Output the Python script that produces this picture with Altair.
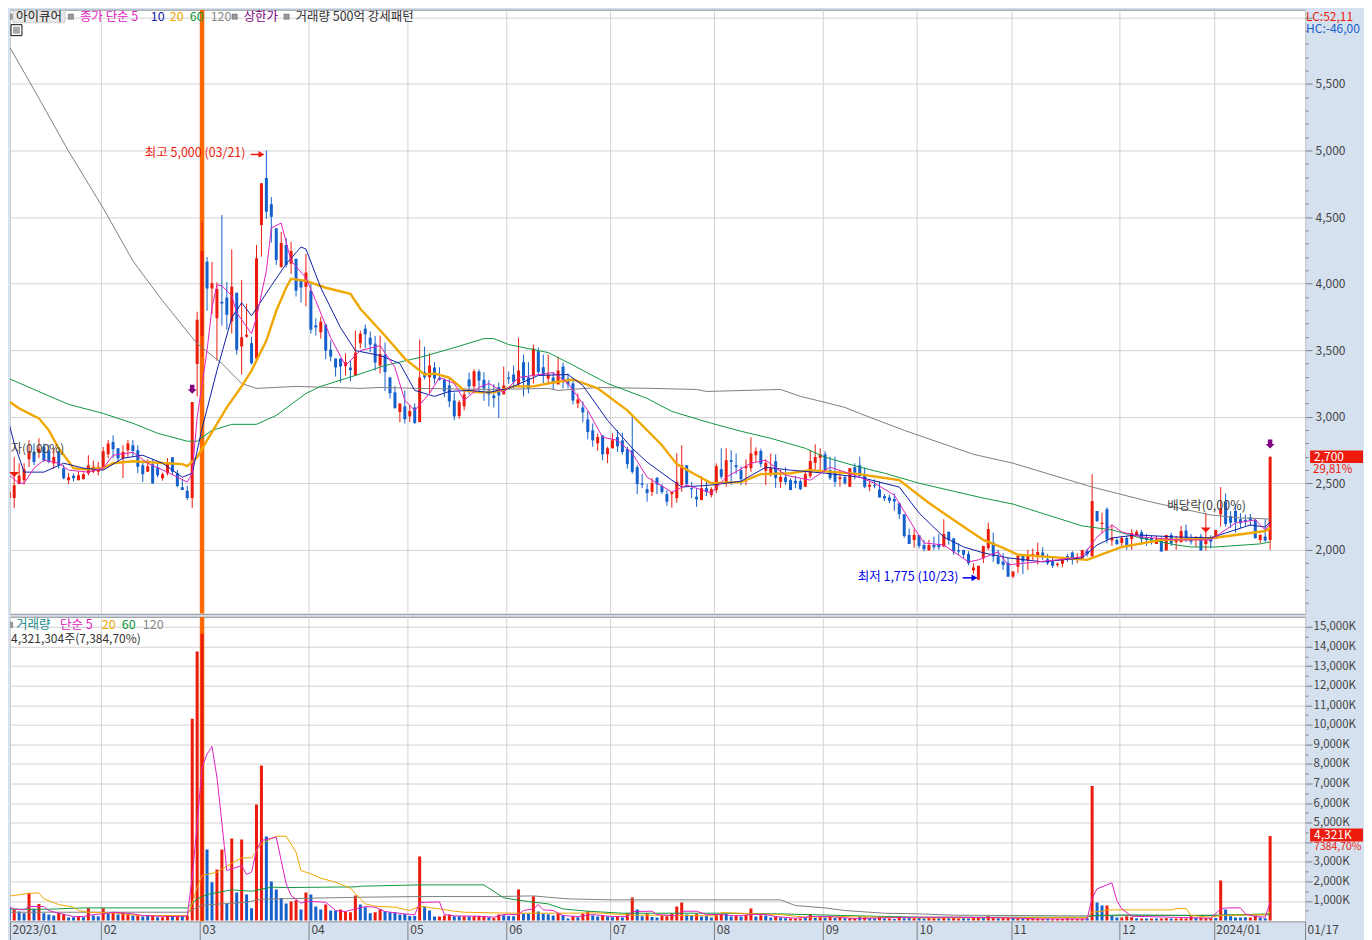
import altair as alt
import pandas as pd

# ---- daily candles (won)
opens = [
 2374,2389,2389,2494,2524,2681,2736,2733,2773,2748,
 2648,2741,2614,2524,2556,2524,2531,2576,2586,2586,
 2614,2718,2810,2763,2689,2748,2786,2748,2636,2586,
 2644,2621,2539,2576,2696,2576,2471,2444,2389,3397,
 3609,4165,3963,3739,3864,3896,3716,3931,3527,3601,
 3552,3437,4440,4794,4597,4415,4126,4290,4150,4187,
 4021,3976,3946,3686,3634,3692,3504,3437,3437,3380,
 3370,3310,3552,3662,3594,3549,3385,3467,3295,3183,
 3035,3078,3003,3070,2960,3335,3297,3370,3292,3277,
 3235,3122,3005,3078,3280,3228,3340,3277,3198,3160,
 3222,3168,3295,3317,3243,3410,3295,3310,3492,3372,
 3287,3295,3243,3377,3287,3250,3100,3070,2980,2898,
 2801,2860,2718,2763,2848,2823,2756,2748,2621,2500,
 2456,2436,2541,2481,2419,2419,2389,2486,2636,2464,
 2399,2374,2464,2411,2449,2606,2511,2674,2636,2599,
 2614,2614,2711,2743,2594,2561,2666,2511,2546,2524,
 2519,2516,2474,2554,2654,2691,2718,2599,2586,2531,
 2546,2474,2621,2636,2569,2474,2486,2454,2404,2394,
 2382,2349,2267,2112,2075,2110,2037,1995,2037,2043,
 2025,2137,2087,2000,2000,1970,1845,1775,1938,2013,
 2055,1948,1912,1903,1800,1873,1963,1920,1950,1950,
 1980,1930,1912,1885,1895,1955,1980,1932,1938,1993,
 1955,2292,2195,2305,2070,2075,2052,2090,2082,2112,
 2132,2090,2090,2045,2082,1995,2112,2058,2058,2145,
 2090,2075,2100,2045,2090,2082,2267,2362,2254,2294,
 2230,2225,2245,2225,2075,2100,2075]
closes = [
 2449,2436,2486,2556,2606,2741,2661,2760,2674,2661,
 2698,2636,2539,2546,2539,2561,2569,2636,2624,2624,
 2741,2800,2756,2689,2736,2800,2743,2624,2569,2629,
 2501,2561,2569,2651,2586,2479,2449,2389,3110,3729,
 4245,3963,4003,3959,3851,3766,3976,3504,3597,3616,
 3402,4190,4754,4540,4502,4178,4305,4140,4245,3946,
 3971,4083,3654,3671,3714,3497,3452,3370,3377,3410,
 3350,3482,3624,3619,3542,3407,3472,3335,3177,3065,
 3100,2981,3043,2953,3295,3297,3385,3287,3277,3190,
 3115,3003,3110,3168,3228,3342,3272,3213,3168,3140,
 3160,3235,3285,3260,3347,3272,3213,3512,3335,3310,
 3317,3250,3347,3267,3243,3122,3130,3033,2885,2823,
 2848,2718,2763,2823,2778,2735,2644,2586,2494,2490,
 2427,2504,2491,2434,2362,2434,2511,2636,2494,2456,
 2379,2464,2436,2456,2629,2549,2674,2661,2621,2531,
 2629,2724,2741,2644,2654,2614,2539,2549,2509,2449,
 2499,2456,2569,2668,2698,2718,2599,2539,2511,2546,
 2501,2614,2579,2556,2474,2489,2479,2394,2387,2369,
 2364,2267,2105,2045,2112,2030,2005,2037,2020,2020,
 2120,2075,1987,1987,1963,1900,1868,1880,2030,2157,
 1950,1895,1887,1798,1838,1955,1912,1963,1970,1985,
 1950,1900,1880,1895,1925,1938,1925,1945,2000,1970,
 2367,2217,2204,2080,2090,2045,2090,2037,2127,2137,
 2080,2075,2075,2082,1987,2112,2050,2075,2142,2075,
 2062,2090,1995,2075,2062,2150,2312,2195,2204,2207,
 2200,2210,2220,2087,2112,2070,2700]
highs = [
 2516,2486,2696,2650,2650,2823,2800,2838,2800,2790,
 2764,2745,2640,2578,2575,2590,2580,2711,2670,2660,
 2773,2825,2860,2765,2785,2825,2825,2786,2670,2680,
 2680,2650,2580,2690,2696,2600,2531,2480,3110,3789,
 4465,4200,4163,4010,4515,4013,4258,3931,4028,3849,
 3601,4290,4754,5000,4650,4415,4387,4343,4313,4187,
 4021,4223,4010,3739,3751,3700,3572,3437,3437,3475,
 3422,3647,3647,3692,3640,3607,3609,3557,3300,3230,
 3100,3198,3090,3100,3579,3527,3475,3410,3372,3290,
 3295,3180,3125,3213,3332,3357,3355,3335,3275,3245,
 3257,3377,3340,3385,3594,3467,3410,3542,3520,3467,
 3467,3335,3452,3407,3325,3290,3175,3115,3043,2950,
 2875,2860,2775,2875,2898,2880,2775,3010,2636,2569,
 2495,2539,2548,2495,2449,2434,2726,2786,2636,2510,
 2464,2554,2516,2470,2650,2763,2763,2748,2725,2628,
 2680,2845,2770,2760,2680,2725,2718,2600,2621,2539,
 2556,2530,2599,2748,2793,2763,2741,2700,2700,2600,
 2555,2614,2650,2700,2620,2519,2530,2515,2419,2415,
 2424,2357,2267,2160,2155,2110,2075,2075,2100,2120,
 2230,2137,2087,2050,2000,1990,1900,1880,2030,2205,
 2130,2000,1975,1940,1838,1955,1963,2000,2010,2055,
 2020,1970,1940,1905,1945,1970,1990,1975,2000,2010,
 2569,2292,2279,2320,2190,2090,2105,2105,2155,2150,
 2150,2120,2105,2105,2095,2112,2130,2105,2180,2190,
 2120,2105,2120,2277,2110,2150,2471,2424,2290,2340,
 2275,2265,2270,2235,2120,2230,2700]
lows = [
 2359,2314,2314,2494,2490,2621,2636,2689,2660,2650,
 2611,2610,2530,2494,2515,2524,2531,2561,2576,2560,
 2599,2690,2690,2660,2540,2700,2700,2576,2510,2586,
 2495,2545,2520,2560,2561,2470,2449,2374,2314,3153,
 3450,3796,3771,3422,3684,3654,3625,3467,3317,3594,
 3392,3409,4203,4487,4308,4140,4118,4120,4073,3903,
 3857,3830,3625,3610,3587,3432,3417,3302,3257,3310,
 3267,3310,3514,3517,3487,3347,3325,3193,3138,3060,
 2958,2950,2960,2945,2960,3280,3175,3250,3272,3147,
 3070,2975,2985,3048,3168,3175,3188,3120,3078,3070,
 2990,3168,3248,3215,3222,3153,3175,3250,3312,3250,
 3250,3205,3243,3213,3213,3093,3065,2958,2830,2775,
 2745,2674,2651,2763,2735,2715,2611,2571,2419,2464,
 2362,2404,2419,2419,2332,2317,2354,2436,2480,2389,
 2324,2374,2404,2394,2427,2531,2474,2486,2569,2486,
 2486,2586,2661,2621,2486,2550,2466,2466,2489,2449,
 2464,2449,2474,2540,2600,2600,2599,2524,2474,2474,
 2489,2474,2530,2540,2464,2441,2464,2394,2367,2350,
 2294,2232,2090,2045,2015,2012,1990,1995,2000,2000,
 2020,2040,1963,1963,1940,1885,1820,1775,1900,2000,
 1910,1890,1850,1798,1788,1828,1818,1850,1925,1890,
 1925,1885,1865,1875,1870,1910,1890,1900,1925,1950,
 1938,2210,2125,2050,2030,2035,2030,2000,2000,2100,
 2040,2030,2040,2045,1987,1995,2030,2000,2058,2060,
 2040,2020,1995,1995,2010,2082,2175,2175,2165,2130,
 2165,2180,2180,2085,2050,2060,2000]

# ---- daily volume (thousand shares) and bar colour (r/b)
volumes = [
 818,647,545,460,375,1414,596,852,375,307,
 256,392,341,153,170,221,170,630,256,221,
 630,375,426,307,426,307,256,290,204,272,
 256,170,170,290,272,221,221,256,10307,13748,
 14650,3629,1959,2606,3629,852,4191,1431,4140,1329,
 630,5928,7922,4293,1993,1584,1158,869,971,1039,
 562,1431,1329,715,562,818,511,511,562,460,
 426,1278,818,681,375,426,562,477,426,426,
 307,341,239,239,3271,715,511,204,204,256,
 307,221,221,221,221,221,239,239,170,136,
 307,273,239,221,1584,358,358,1244,460,358,
 324,256,358,273,102,221,170,358,460,256,
 204,273,204,170,204,153,375,1175,562,221,
 358,187,153,239,221,358,715,920,307,256,
 341,204,239,153,341,324,341,204,256,204,
 290,613,204,273,256,153,204,153,119,102,
 102,102,170,324,136,170,153,187,136,136,
 119,119,119,204,170,119,102,204,102,102,
 85,204,119,136,119,136,102,136,119,119,
 153,119,136,102,119,102,136,187,153,221,
 170,119,136,136,153,119,119,102,102,102,
 85,85,68,85,85,102,85,85,85,102,
 6880,920,767,767,256,153,153,221,170,119,
 102,102,102,102,102,119,102,102,119,102,
 221,136,153,119,119,136,2044,562,221,153,
 153,170,153,256,153,119,4321]
volume_colors = (
 "rbrbbrbrbb" "brrbbrbrbb" "rbrbrrbrbb" "rbrrbrbrrr" "rbbrrbrbrb"
 "brrbbbbbrr" "brbbbrbbrr" "rrbbbrrbbb" "bbbbrbbbrr" "rbbrbrrrbr"
 "rbbbrbbrbb" "bbrbbrbrrb" "brbbrbrrbb" "rbbrrrrrbb" "rbbbrrbbrb"
 "rrbrbbrbbr" "rrbrbrbrbr" "brrbrbbrbr" "brbbrbbrrb" "rbrrbbrrbr"
 "rbrrbrbrrr" "rbrrrrrrrb" "rbbrbbrrrb" "rbrbrrbrrr" "rbrrrbrbbb" "bbrrbbr")

# ---- price moving averages, read at line vertices (trading-day number, won)
ma5_i = [0,3,4,6,8,11,13,17,20,22,26,29,33,37,38,39,41,42,43,44,46,47,50,51,53,54,56,58,61,63,66,69,72,76,79,81,83,86,88,91,93,96,98,101,104,107,111,114,118,121,124,127,130,135,138,143,146,151,154,158,163,167,172,176,180,184,186,190,195,197,201,203,207,213,218,221,224,226,230,237,244,249,253,255,256]
ma5_v = [2591,2501,2501,2614,2674,2651,2599,2584,2614,2711,2733,2651,2584,2509,2576,2996,3497,3819,3991,3984,3909,3781,3624,3744,4096,4418,4455,4171,4043,3871,3594,3385,3497,3534,3370,3123,3048,3175,3295,3250,3123,3220,3250,3183,3295,3310,3332,3250,3048,2846,2823,2726,2546,2434,2487,2427,2546,2651,2674,2561,2524,2621,2560,2501,2412,2165,2052,2037,1910,1925,1985,1888,1903,1925,1948,2097,2187,2135,2097,2075,2075,2202,2225,2150,2202]
ma10_i = [0,2,4,8,12,16,20,24,28,32,36,38,40,43,46,48,50,54,57,60,61,64,68,71,76,80,83,87,90,94,98,102,108,114,117,122,127,130,135,137,143,149,154,159,166,173,181,185,190,194,198,203,210,218,221,224,229,237,244,247,252,255,256]
ma10_v = [3085,2801,2584,2584,2651,2614,2599,2689,2711,2651,2546,2576,2913,3347,3744,3856,3759,3984,4148,4275,4260,3969,3669,3497,3460,3400,3198,3153,3190,3198,3183,3213,3310,3317,3235,2973,2763,2659,2524,2472,2487,2516,2621,2599,2576,2546,2472,2277,2097,2022,1978,1940,1910,1940,2037,2090,2112,2097,2090,2127,2187,2172,2210]
ma20_i = [0,3,7,9,11,14,16,20,22,26,33,36,37,39,41,45,48,50,53,55,57,58,61,65,70,72,77,81,85,87,90,93,96,99,103,107,111,115,120,126,133,136,140,143,149,153,159,163,173,177,181,187,192,198,202,205,214,219,226,234,242,246,255,256]
ma20_v = [3138,3063,2988,2898,2763,2614,2606,2614,2651,2666,2651,2644,2629,2696,2823,3070,3228,3347,3572,3796,3969,4036,4021,3969,3924,3811,3609,3437,3317,3325,3295,3198,3183,3183,3228,3228,3257,3280,3213,3048,2786,2644,2561,2501,2509,2569,2576,2599,2569,2546,2524,2352,2225,2075,2015,1963,1940,1925,2022,2075,2082,2097,2142,2165]
ma60_i = [0,6,13,20,26,31,37,39,42,46,51,55,61,64,71,77,84,91,97,99,102,110,114,122,130,135,143,149,155,162,166,173,178,185,191,198,204,211,218,224,229,233,237,240,245,254,256]
ma60_v = [3302,3205,3093,3025,2951,2876,2816,2816,2898,2943,2943,3010,3175,3228,3310,3385,3445,3519,3587,3587,3542,3482,3407,3250,3138,3040,2951,2891,2838,2763,2696,2621,2576,2501,2449,2389,2344,2262,2180,2150,2097,2067,2037,2022,2022,2045,2060]
ma120_i = [0,6,13,20,26,32,39,44,48,51,59,72,76,84,99,110,112,120,131,140,142,157,161,166,170,173,182,196,204,220,232,244,250,256]
ma120_v = [5847,5458,4994,4567,4171,3871,3549,3400,3250,3213,3228,3213,3220,3213,3205,3213,3198,3220,3213,3205,3190,3205,3153,3108,3070,3025,2898,2718,2651,2472,2359,2262,2240,2232]

# ---- volume moving averages
vma5_i = [0,2,4,5,8,9,11,14,16,18,20,22,26,28,33,37,38,39,40,41,42,43,44,45,46,48,49,50,51,52,55,56,57,58,60,61,65,67,69,71,73,75,77,81,83,84,88,89,91,96,99,101,104,105,107,108,109,111,113,116,119,123,126,127,131,132,136,137,140,142,145,148,151,154,156,160,163,167,172,178,185,192,204,209,219,220,221,224,225,226,228,244,246,247,250,251,253,255,256]
vma5_v = [767,596,545,716,716,511,375,204,204,307,341,426,341,256,204,221,2215,4940,7836,8500,8893,7325,5000,2555,2640,2811,2351,2470,3600,4088,4259,3066,1874,1278,886,988,937,511,460,596,716,681,460,341,290,920,954,307,239,221,170,307,307,511,596,818,545,511,256,204,307,204,204,460,477,307,239,477,477,307,307,239,307,307,204,119,204,204,102,136,170,170,136,85,85,1150,1618,1925,1022,596,221,119,596,647,647,341,204,170,937]
vma20_i = [0,2,5,7,8,11,14,15,17,22,24,27,37,38,39,40,43,46,48,50,52,55,57,59,60,62,64,67,70,72,73,75,79,82,84,88,91,93,99,104,111,120,125,127,131,144,145,152,157,162,170,185,219,220,222,223,236,237,239,240,244,246,255,256]
vma20_v = [1244,1278,1397,1414,1107,818,681,511,426,392,341,256,256,852,1704,2300,2470,2930,3203,3203,3918,4310,4310,3492,2555,2385,2164,1959,1652,1107,852,733,681,511,733,596,477,426,392,375,375,392,307,273,273,239,409,341,307,170,204,136,153,426,477,545,545,613,613,256,170,256,307,426]
vma60_i = [0,9,16,37,39,41,46,50,54,57,71,72,84,97,101,106,110,113,118,125,144,157,170,185,219,220,227,243,256]
vma60_v = [579,579,647,647,1107,1329,1567,1499,1704,1687,1720,1755,1823,1823,1158,971,852,596,477,375,375,341,256,170,170,256,290,256,341]
vma120_i = [0,37,40,42,49,52,72,84,100,107,110,114,123,157,160,166,170,178,185,192,219,256]
vma120_v = [426,426,784,818,937,1090,1193,1227,1227,1261,1193,1107,1056,1056,767,647,511,375,341,273,239,290]

# ---- axis labels
month_days = [1.15,19.6,39.6,61.6,81.6,101.6,122.6,143.6,165.6,184.6,203.6,225.6,244.6,263.07]
month_labels = ["2023/01","02","03","04","05","06","07","08","09","10","11","12","2024/01","01/17"]

assert all(len(a) == 257 for a in (opens, closes, highs, lows, volumes, volume_colors))

RED, BLUE = "#EC1B0C", "#1460CC"
MAG, NAVY, ORG, GRN, GRY = "#E020C0", "#1020A8", "#F0A800", "#109840", "#808080"
FONT = "Noto Sans CJK KR"
GRID = "#D2D2D2"
XMIN, XMAX = 1.15, 263.07

days = list(range(257))
df = pd.DataFrame({"i": days, "o": opens, "c": closes, "h": highs, "l": lows, "v": volumes})
df["dir"] = ["up" if c >= o else "down" for o, c in zip(opens, closes)]
df["vdir"] = ["up" if ch == "r" else "down" for ch in volume_colors]
one = alt.Data(values=[{"a": 1}])

xs = alt.Scale(domain=[XMIN, XMAX], nice=False, zero=False, padding=0)
ys = alt.Scale(domain=[1520, 6057.5], nice=False, zero=False)
vs = alt.Scale(domain=[-40, 15520], nice=False, zero=False)
cs = alt.Scale(domain=["up", "down"], range=[RED, BLUE])

label_expr = "%s[indexof(%s, datum.value)]" % (month_labels, month_days)

px_axis = alt.Axis(values=month_days, labels=False, ticks=False, domain=False, grid=True,
                   gridColor=GRID, title=None, minExtent=0, maxExtent=0)
vx_axis = alt.Axis(values=month_days, labelExpr=label_expr, labelAlign="left", labelBaseline="top",
                   labelPadding=-16, labelOffset=2, labelFlush=False, labelOverlap=False,
                   labelFont=FONT, labelFontSize=12, labelColor="#444444",
                   tickSize=19, tickColor="#808080", tickWidth=1, domain=False, grid=True,
                   gridColor=GRID, title=None, minExtent=19, maxExtent=19)
py_axis = alt.Axis(orient="right", values=list(range(1600, 6100, 100)),
                   labelExpr="datum.value % 500 === 0 && datum.value < 6000 ? format(datum.value, ',') : ''",
                   tickSize={"condition": {"test": "datum.value % 500 === 0", "value": 7}, "value": 3},
                   gridOpacity={"condition": {"test": "datum.value % 500 === 0", "value": 1}, "value": 0},
                   grid=True, gridColor=GRID, domain=False, tickColor="#808080", labelColor="#444444",
                   labelFont=FONT, labelFontSize=12, labelPadding=3, labelOverlap=False, title=None,
                   minExtent=58, maxExtent=58)
vy_axis = alt.Axis(orient="right", values=list(range(500, 15500, 500)),
                   labelExpr="datum.value % 1000 === 0 && datum.value !== 4000 ? format(datum.value, ',') + 'K' : ''",
                   tickSize={"condition": {"test": "datum.value % 1000 === 0", "value": 7}, "value": 3},
                   gridOpacity={"condition": {"test": "datum.value % 1000 === 0", "value": 1}, "value": 0},
                   grid=True, gridColor=GRID, domain=False, tickColor="#808080", labelColor="#444444",
                   labelFont=FONT, labelFontSize=11.5, labelPadding=1, labelOverlap=False, title=None,
                   minExtent=58, maxExtent=58)

PRICE = dict(y=ys, ya=py_axis, xa=px_axis)
VOL = dict(y=vs, ya=vy_axis, xa=vx_axis)


def X(panel, f="i:Q"):
    return alt.X(f, scale=xs, axis=panel["xa"])


def Y(panel, f="p:Q"):
    return alt.Y(f, scale=panel["y"], axis=panel["ya"])


def text(s, x, y, color, align="left", size=12.5, clip=False):
    return alt.Chart(one).mark_text(text=s, color=color, font=FONT, fontSize=size, align=align,
                                    baseline="middle", clip=clip).encode(x=alt.value(x), y=alt.value(y))


def square(x, y, color="#999999", size=28):
    return alt.Chart(one).mark_square(color=color, size=size, opacity=1, stroke="#666666",
                                      strokeWidth=0.5, clip=True).encode(x=alt.value(x), y=alt.value(y))


def box(x, x2, y, y2, fill, stroke=None):
    kw = {"stroke": stroke, "strokeWidth": 1} if stroke else {}
    return alt.Chart(one).mark_rect(color=fill, **kw).encode(
        x=alt.value(x), x2=alt.value(x2), y=alt.value(y), y2=alt.value(y2))


def ma(panel, idx, val, color, width=1.0):
    return alt.Chart(pd.DataFrame({"i": idx, "p": val})).mark_line(
        color=color, strokeWidth=width, clip=True).encode(x=X(panel), y=Y(panel))


def stripe(panel):
    d = panel["y"].domain
    return alt.Chart(pd.DataFrame({"i": [40], "p": [d[0]], "t": [d[1]]})).mark_rule(
        color="#FF6A00", strokeWidth=4.4, clip=True).encode(x=X(panel), y=Y(panel), y2="t:Q")


def arrow_line(x0, x1, p, color):
    return alt.Chart(pd.DataFrame({"a": [x0], "b": [x1], "p": [p]})).mark_rule(
        color=color, strokeWidth=1.5).encode(x=X(PRICE, "a:Q"), x2="b:Q", y=Y(PRICE))


def marker(x0, p, color, shape, size):
    return alt.Chart(pd.DataFrame({"a": [x0], "p": [p]})).mark_point(
        shape=shape, color=color, filled=True, size=size, opacity=1).encode(
        x=X(PRICE, "a:Q"), y=Y(PRICE))


BLOCK_DOWN = "M-0.5,-1L0.5,-1L0.5,0L1,0L0,1L-1,0L-0.5,0Z"
WIDE_DOWN = "M-1,-0.5L1,-0.5L0,0.5Z"

# ------- price panel (panel px = reference px - 9)
wicks = alt.Chart(df).mark_rule(strokeWidth=1, clip=True).encode(
    x=X(PRICE), y=Y(PRICE, "l:Q"), y2="h:Q",
    color=alt.Color("dir:N", scale=cs, legend=None))
bodies = alt.Chart(df).mark_bar(size=3, orient="vertical", clip=True).encode(
    x=X(PRICE), y=Y(PRICE, "o:Q"), y2="c:Q",
    color=alt.Color("dir:N", scale=cs, legend=None))

p_layers = [
    stripe(PRICE), wicks, bodies,
    ma(PRICE, ma120_i, ma120_v, GRY), ma(PRICE, ma60_i, ma60_v, GRN),
    ma(PRICE, ma20_i, ma20_v, ORG, 2.4), ma(PRICE, ma10_i, ma10_v, NAVY), ma(PRICE, ma5_i, ma5_v, MAG),
    # annotation arrows
    arrow_line(49.8, 52.2, 4970, RED), marker(52.0, 4970, RED, "triangle-right", 45),
    arrow_line(193.8, 196.6, 1790, "#0000F0"), marker(196.2, 1790, "#0000F0", "triangle-right", 45),
    marker(38, 3207, "#800080", BLOCK_DOWN, 80), marker(256, 2795, "#800080", BLOCK_DOWN, 80),
    marker(2, 2567, RED, WIDE_DOWN, 100), marker(243, 2150, RED, WIDE_DOWN, 100),
    text("최고 5,000 (03/21)", 135, 144, RED),
    text("최저 1,775 (10/23)", 849, 568, "#0000F0"),
    text("자(0,00%)", 1, 440, "#444444", size=12),
    text("배당락(0,00%)", 1159, 497, "#444444"),
    # header
    square(0, 7), box(3, 55, 1, 13, "#E8E8E8", "#CFCFCF"),
    text("아이큐어", 6, 7, "#222222", clip=True),
    square(61, 7),
    text("종가 단순 5", 70, 7, MAG, clip=True),
    text("10", 141, 7, NAVY, clip=True), text("20", 160, 7, ORG, clip=True),
    text("60", 180, 7, GRN, clip=True), text("120", 201, 7, "#888888", clip=True),
    square(225, 7), text("상한가", 234, 7, "#800080", clip=True),
    square(277, 7), text("거래량 500억 강세패턴", 286, 7, "#333333", clip=True),
    # table icon
    box(1, 12, 15, 26, "#FFFFFF", "#111111"), box(3, 10, 17, 24, "#AAAAAA"),
    # right strip badges
    text("LC:52,11", 1298, 7, RED, size=12), text("HC:-46,00", 1298, 19, "#1460CC", size=12),
    box(1302, 1355, 441.5, 454, RED), text("2,700", 1306, 448, "white", size=12),
    text("29,81%", 1305, 460.5, RED, size=11.5),
]
price = alt.layer(*p_layers).properties(width=1297, height=605)

# ------- volume panel (panel px = reference px - 9 / - 615)
vbars = alt.Chart(df).mark_bar(size=3, orient="vertical", clip=True).encode(
    x=X(VOL), y=Y(VOL, "v:Q"),
    color=alt.Color("vdir:N", scale=cs, legend=None))
v_layers = [
    stripe(VOL), vbars,
    ma(VOL, vma120_i, vma120_v, GRY), ma(VOL, vma60_i, vma60_v, GRN),
    ma(VOL, vma20_i, vma20_v, ORG), ma(VOL, vma5_i, vma5_v, MAG),
    square(0, 8),
    text("거래량", 6, 8, "#208888", clip=True), text("단순 5", 50, 8, MAG, clip=True),
    text("20", 92, 8, ORG, clip=True), text("60", 112, 8, GRN, clip=True), text("120", 133, 8, "#888888", clip=True),
    text("4,321,304주(7,384,70%)", 1, 22, "#333333", size=12, clip=True),
    square(1351, 6, "#555555", 25),
    box(1302, 1355, 212, 225, RED), text("4,321K", 1306, 218.5, "white", size=12),
    text("7384,70%", 1306, 231, RED, size=10.5),
]
volume = alt.layer(*v_layers).properties(width=1297, height=305)

chart = alt.vconcat(price, volume, spacing=1).properties(
    padding=0, background="#D6E1F0"
).configure_view(fill="white", stroke="#8F8F8F", strokeWidth=1)

chart.save("out.html", embed_options={"renderer": "svg", "actions": False})
